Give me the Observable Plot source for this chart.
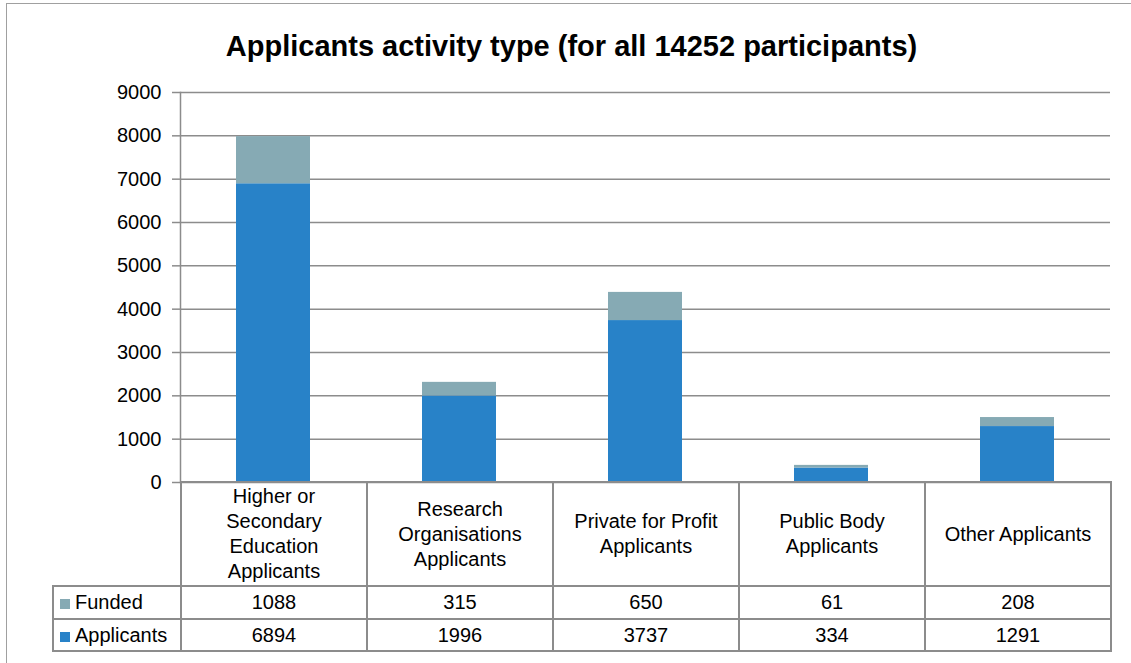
<!DOCTYPE html>
<html>
<head>
<meta charset="utf-8">
<script src="https://cdn.jsdelivr.net/npm/d3@7"></script>
<script src="https://cdn.jsdelivr.net/npm/@observablehq/plot@0.6"></script>
<style>
  html, body { margin: 0; padding: 0; background: #fff; }
  #wrap { position: relative; width: 1131px; height: 663px; overflow: hidden; font-family: "Liberation Sans", Arial, sans-serif; }
  #frame { position: absolute; left: 6px; top: 3px; width: 1200px; height: 800px; border: 1.5px solid #a0a0a0; box-sizing: border-box; }
  #title { position: absolute; left: 0; top: 32px; width: 1143px; text-align: center; font-size: 29px; line-height: 29px; font-weight: bold; color: #000; }
  #chart { position: absolute; left: 0; top: 0; }
  table.dt { position: absolute; left: 52px; top: 481px; border-collapse: collapse; table-layout: fixed; font-size: 20px; color: #000; }
  table.dt td { border: 2px solid #8c8c8c; text-align: center; vertical-align: middle; padding: 0; line-height: 25px; white-space: pre-line; }
  table.dt td.blank { border-top: none; border-left: none; }
  table.dt td.rowlab { text-align: left; padding-left: 6px; white-space: nowrap; }
  .sw { display: inline-block; width: 10px; height: 10px; margin-right: 5px; vertical-align: 0px; }
</style>
</head>
<body>
<div id="wrap">
  <div id="frame"></div>
  <div id="chart"></div>
  <div id="title">Applicants activity type (for all 14252 participants)</div>
</div>
<script>
const categories = [
  "Higher or Secondary Education Applicants",
  "Research Organisations Applicants",
  "Private for Profit Applicants",
  "Public Body Applicants",
  "Other Applicants"
];
const categoryLabels = [
  "Higher or\nSecondary\nEducation\nApplicants",
  "Research\nOrganisations\nApplicants",
  "Private for Profit\nApplicants",
  "Public Body\nApplicants",
  "Other Applicants"
];
const seriesNames = ["Funded", "Applicants"];
const funded = [1088, 315, 650, 61, 208];
const applicants = [6894, 1996, 3737, 334, 1291];
const yTicks = [0, 1000, 2000, 3000, 4000, 5000, 6000, 7000, 8000, 9000];
const seriesColors = { Funded: "#86aab4", Applicants: "#2882c8" };

const rows = categories.flatMap((c, i) => [
  { category: c, series: "Applicants", value: applicants[i] },
  { category: c, series: "Funded", value: funded[i] }
]);

const chart = Plot.plot({
  width: 1131,
  height: 663,
  marginLeft: 180,
  marginRight: 21,
  marginTop: 92,
  marginBottom: 181,
  style: { fontFamily: "'Liberation Sans', Arial, sans-serif", fontSize: "20px", background: "transparent", color: "#000" },
  x: { domain: categories, padding: 0, axis: null, label: null },
  y: { domain: [0, 9000], axis: null, label: null },
  color: { domain: ["Applicants", "Funded"], range: [seriesColors.Applicants, seriesColors.Funded] },
  marks: [
    Plot.ruleY(yTicks, { stroke: "#8c8c8c", strokeWidth: 1.5 }),
    Plot.frame({ anchor: "left", stroke: "#8c8c8c", strokeWidth: 1.5 }),
    Plot.barY(rows, { x: "category", y: "value", fill: "series", insetLeft: 56, insetRight: 56 }),
    Plot.axisY({ ticks: yTicks, label: null, tickSize: 8, tickFormat: () => "", stroke: "#8c8c8c", strokeWidth: 1.5 }),
    Plot.axisY({ ticks: yTicks, label: null, tickSize: 0, tickPadding: 19, tickFormat: d3.format("d"), fill: "#000", fontSize: 20 })
  ]
});
document.getElementById("chart").appendChild(chart);

// data table below the chart
const table = document.createElement("table");
table.className = "dt";
const colgroup = document.createElement("colgroup");
[128, 186, 186, 186, 186, 186].forEach(w => {
  const col = document.createElement("col");
  col.style.width = w + "px";
  colgroup.appendChild(col);
});
table.appendChild(colgroup);

const head = document.createElement("tr");
head.style.height = "104px";
const blank = document.createElement("td");
blank.className = "blank";
head.appendChild(blank);
categoryLabels.forEach(l => {
  const td = document.createElement("td");
  td.textContent = l;
  head.appendChild(td);
});
table.appendChild(head);

const seriesValues = { Funded: funded, Applicants: applicants };
seriesNames.forEach((s, k) => {
  const tr = document.createElement("tr");
  tr.style.height = k === 0 ? "33px" : "32px";
  const lab = document.createElement("td");
  lab.className = "rowlab";
  const sw = document.createElement("span");
  sw.className = "sw";
  sw.style.background = seriesColors[s];
  lab.appendChild(sw);
  lab.appendChild(document.createTextNode(s));
  tr.appendChild(lab);
  seriesValues[s].forEach(v => {
    const td = document.createElement("td");
    td.textContent = String(v);
    tr.appendChild(td);
  });
  table.appendChild(tr);
});
document.getElementById("wrap").appendChild(table);
</script>
</body>
</html>
